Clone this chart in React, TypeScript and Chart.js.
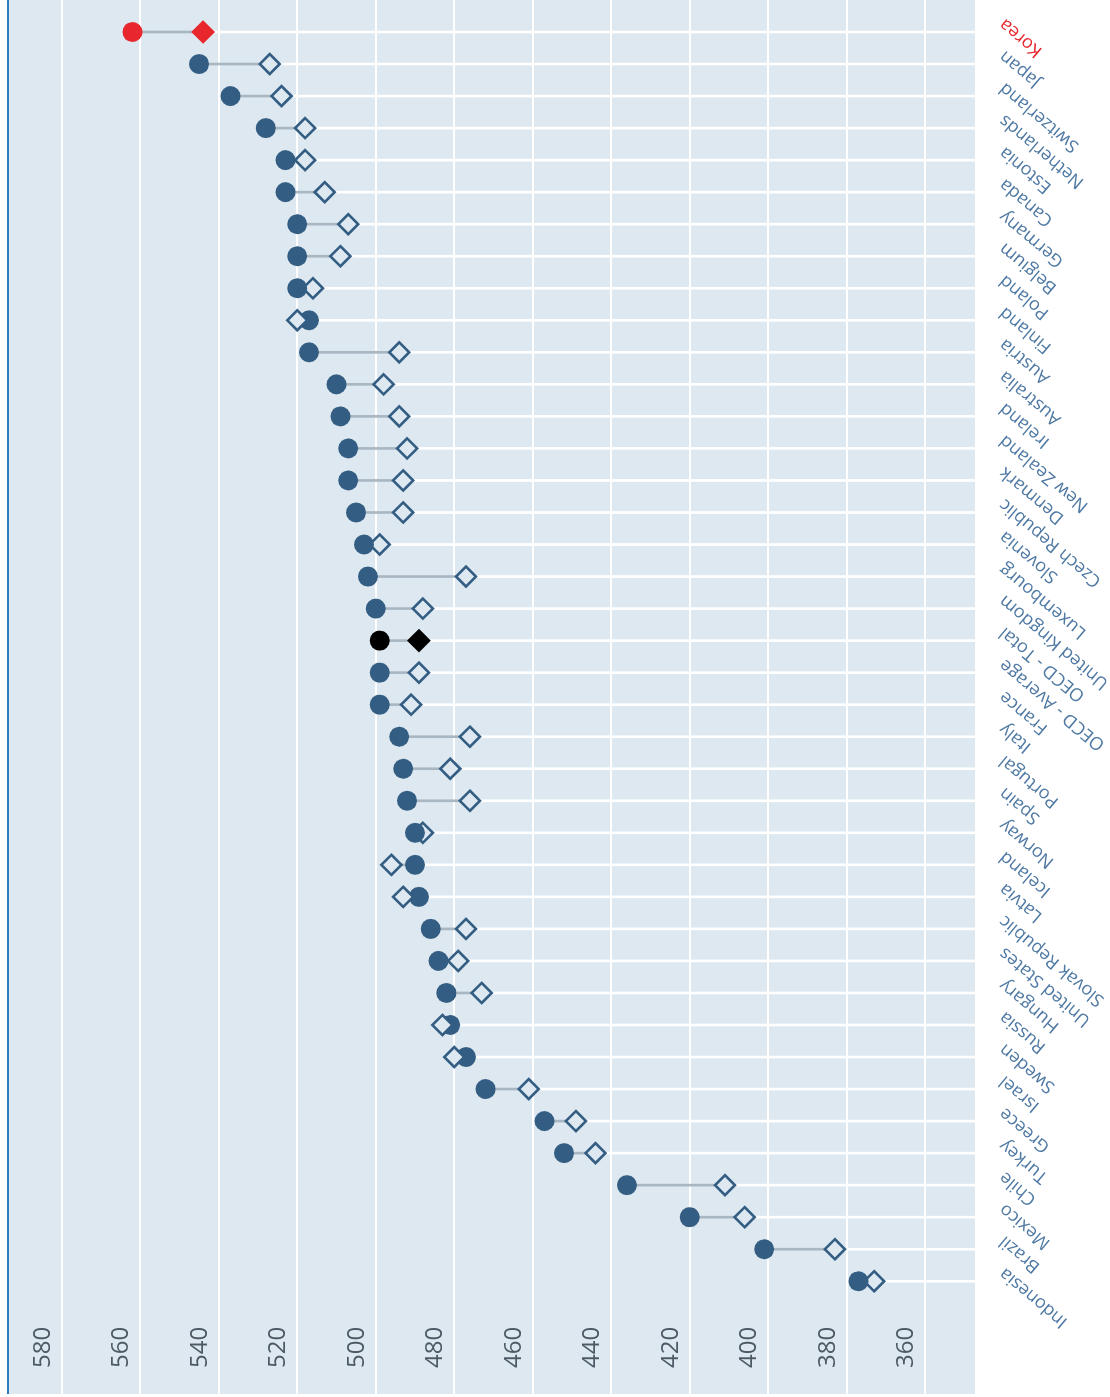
import React, { useEffect, useRef } from "react";
import { Chart, registerables } from "chart.js";

Chart.register(...registerables);

// Countries in chart order (top of picture = first)
const countries = [
  "Korea", "Japan", "Switzerland", "Netherlands", "Estonia", "Canada", "Germany", "Belgium",
  "Poland", "Finland", "Austria", "Australia", "Ireland", "New Zealand", "Denmark",
  "Czech Republic", "Slovenia", "Luxembourg", "United Kingdom", "OECD - Total", "OECD - Average",
  "France", "Italy", "Portugal", "Spain", "Norway", "Iceland", "Latvia", "Slovak Republic",
  "United States", "Hungary", "Russia", "Sweden", "Israel", "Greece", "Turkey", "Chile",
  "Mexico", "Brazil", "Indonesia",
];

// Filled circles
const boys = [
  562, 545, 537, 528, 523, 523, 520, 520, 520, 517, 517, 510, 509, 507, 507, 505, 503, 502, 500,
  499, 499, 499, 494, 493, 492, 490, 490, 489, 486, 484, 482, 481, 477, 472, 457, 452, 436, 420,
  401, 377,
];

// Hollow diamonds
const girls = [
  544, 527, 524, 518, 518, 513, 507, 509, 516, 520, 494, 498, 494, 492, 493, 493, 499, 477, 488,
  489, 489, 491, 476, 481, 476, 488, 496, 493, 477, 479, 473, 483, 480, 461, 449, 444, 411, 406,
  383, 373,
];

const valueTicks = [360, 380, 400, 420, 440, 460, 480, 500, 520, 540, 560, 580];
const highlightRed = ["Korea"];
const highlightBlack = ["OECD - Total"];

const BLUE = "#335d82";
const RED = "#e8262d";
const BLACK = "#000000";
const BG = "#dde8f0";
const LINE_GRAY = "#a9b7c3";
const LABEL_BLUE = "#4f79a3";
const AXIS_BLUE = "#2e7bbd";
const TICK_GRAY = "#4e5966";

const W = 1397;
const H = 1110;

function markerColor(i: number) {
  const name = countries[i];
  if (highlightRed.includes(name)) return RED;
  if (highlightBlack.includes(name)) return BLACK;
  return BLUE;
}

export default function App() {
  const ref = useRef<HTMLCanvasElement | null>(null);

  useEffect(() => {
    if (!ref.current) return;
    Chart.defaults.font.family = "'Open Sans', sans-serif";

    const idx = countries.map((_, i) => i);
    const girlsAbove = idx.filter((i) => girls[i] > boys[i]);
    const girlsBelow = idx.filter((i) => girls[i] <= boys[i]);

    const diamondFill = (i: number) => {
      const c = markerColor(i);
      return c === BLUE ? BG : c;
    };

    const bgPlugin = {
      id: "bgPlugin",
      beforeDraw(chart: any) {
        const { ctx, chartArea } = chart;
        ctx.save();
        ctx.fillStyle = BG;
        ctx.fillRect(chartArea.left, chartArea.top, chartArea.right - chartArea.left, chartArea.bottom - chartArea.top);
        ctx.strokeStyle = AXIS_BLUE;
        ctx.lineWidth = 2;
        ctx.beginPath();
        ctx.moveTo(chartArea.left, chartArea.top);
        ctx.lineTo(chartArea.right, chartArea.top);
        ctx.stroke();
        ctx.restore();
      },
    };

    const chart = new Chart(ref.current, {
      type: "bar",
      data: {
        datasets: [
          {
            type: "line",
            label: "Girls (above)",
            data: girlsAbove.map((i) => ({ x: i, y: girls[i] })),
            showLine: false,
            pointStyle: "rectRot",
            pointRadius: 10,
            pointBorderWidth: 2.6,
            pointBackgroundColor: girlsAbove.map((i) => diamondFill(i)),
            pointBorderColor: girlsAbove.map((i) => markerColor(i)),
            order: 0,
          } as any,
          {
            type: "line",
            label: "Boys",
            data: idx.map((i) => ({ x: i, y: boys[i] })),
            showLine: false,
            pointStyle: "circle",
            pointRadius: 10,
            pointBorderWidth: 0,
            pointBackgroundColor: idx.map((i) => markerColor(i)),
            pointBorderColor: idx.map((i) => markerColor(i)),
            order: 1,
          } as any,
          {
            type: "line",
            label: "Girls (below)",
            data: girlsBelow.map((i) => ({ x: i, y: girls[i] })),
            showLine: false,
            pointStyle: "rectRot",
            pointRadius: 10,
            pointBorderWidth: 2.6,
            pointBackgroundColor: girlsBelow.map((i) => diamondFill(i)),
            pointBorderColor: girlsBelow.map((i) => markerColor(i)),
            order: 2,
          } as any,
          {
            type: "bar",
            label: "Gap",
            data: idx.map((i) => ({ x: i, y: [girls[i], boys[i]] })),
            backgroundColor: LINE_GRAY,
            barThickness: 2,
            grouped: false,
            order: 3,
          } as any,
          {
            type: "bar",
            label: "Stem",
            data: idx.map((i) => ({ x: i, y: Math.min(girls[i], boys[i]) })),
            backgroundColor: "#ffffff",
            barThickness: 2,
            grouped: false,
            order: 4,
          } as any,
        ],
      },
      options: {
        responsive: false,
        animation: false,
        devicePixelRatio: 1,
        events: [],
        layout: { autoPadding: false, padding: { top: 8, left: 3, right: 0, bottom: 0 } },
        plugins: { legend: { display: false }, tooltip: { enabled: false } },
        scales: {
          x: {
            type: "linear",
            reverse: true,
            min: -0.999,
            max: 42.52,
            offset: false,
            position: "bottom",
            grid: { display: false, drawTicks: false },
            border: { display: false },
            afterBuildTicks: (s: any) => {
              s.ticks = countries.map((_, i) => ({ value: i }));
            },
            afterFit: (s: any) => {
              s.height = H - 975;
              s.paddingLeft = 0;
              s.paddingRight = 0;
            },
            ticks: {
              autoSkip: false,
              minRotation: 50,
              maxRotation: 50,
              padding: 20,
              labelOffset: 10,
              font: { size: 18 },
              color: (c: any) => (highlightRed.includes(countries[c.index]) ? RED : LABEL_BLUE),
              callback: (v: any) => countries[v as number],
            },
          },
          y: {
            type: "linear",
            min: 347.3,
            max: 593.7,
            position: "left",
            grid: { color: "#ffffff", lineWidth: 2, drawTicks: false },
            border: { display: false },
            afterBuildTicks: (s: any) => {
              s.ticks = valueTicks.map((v) => ({ value: v }));
            },
            afterFit: (s: any) => {
              s.width = 0;
              s.paddingTop = 0;
              s.paddingBottom = 0;
            },
            ticks: {
              mirror: true,
              crossAlign: "center",
              padding: 26,
              labelOffset: -19,
              font: { size: 24 },
              color: TICK_GRAY,
            },
          },
        },
      } as any,
      plugins: [bgPlugin],
    });

    return () => chart.destroy();
  }, []);

  return (
    <div style={{ position: "absolute", left: 0, top: 0, width: 1110, height: 1397, overflow: "hidden" }}>
      <canvas
        ref={ref}
        width={W}
        height={H}
        style={{
          position: "absolute",
          left: 0,
          top: 0,
          width: W,
          height: H,
          transformOrigin: "0 0",
          transform: `translateY(${W}px) rotate(-90deg)`,
        }}
      />
    </div>
  );
}
